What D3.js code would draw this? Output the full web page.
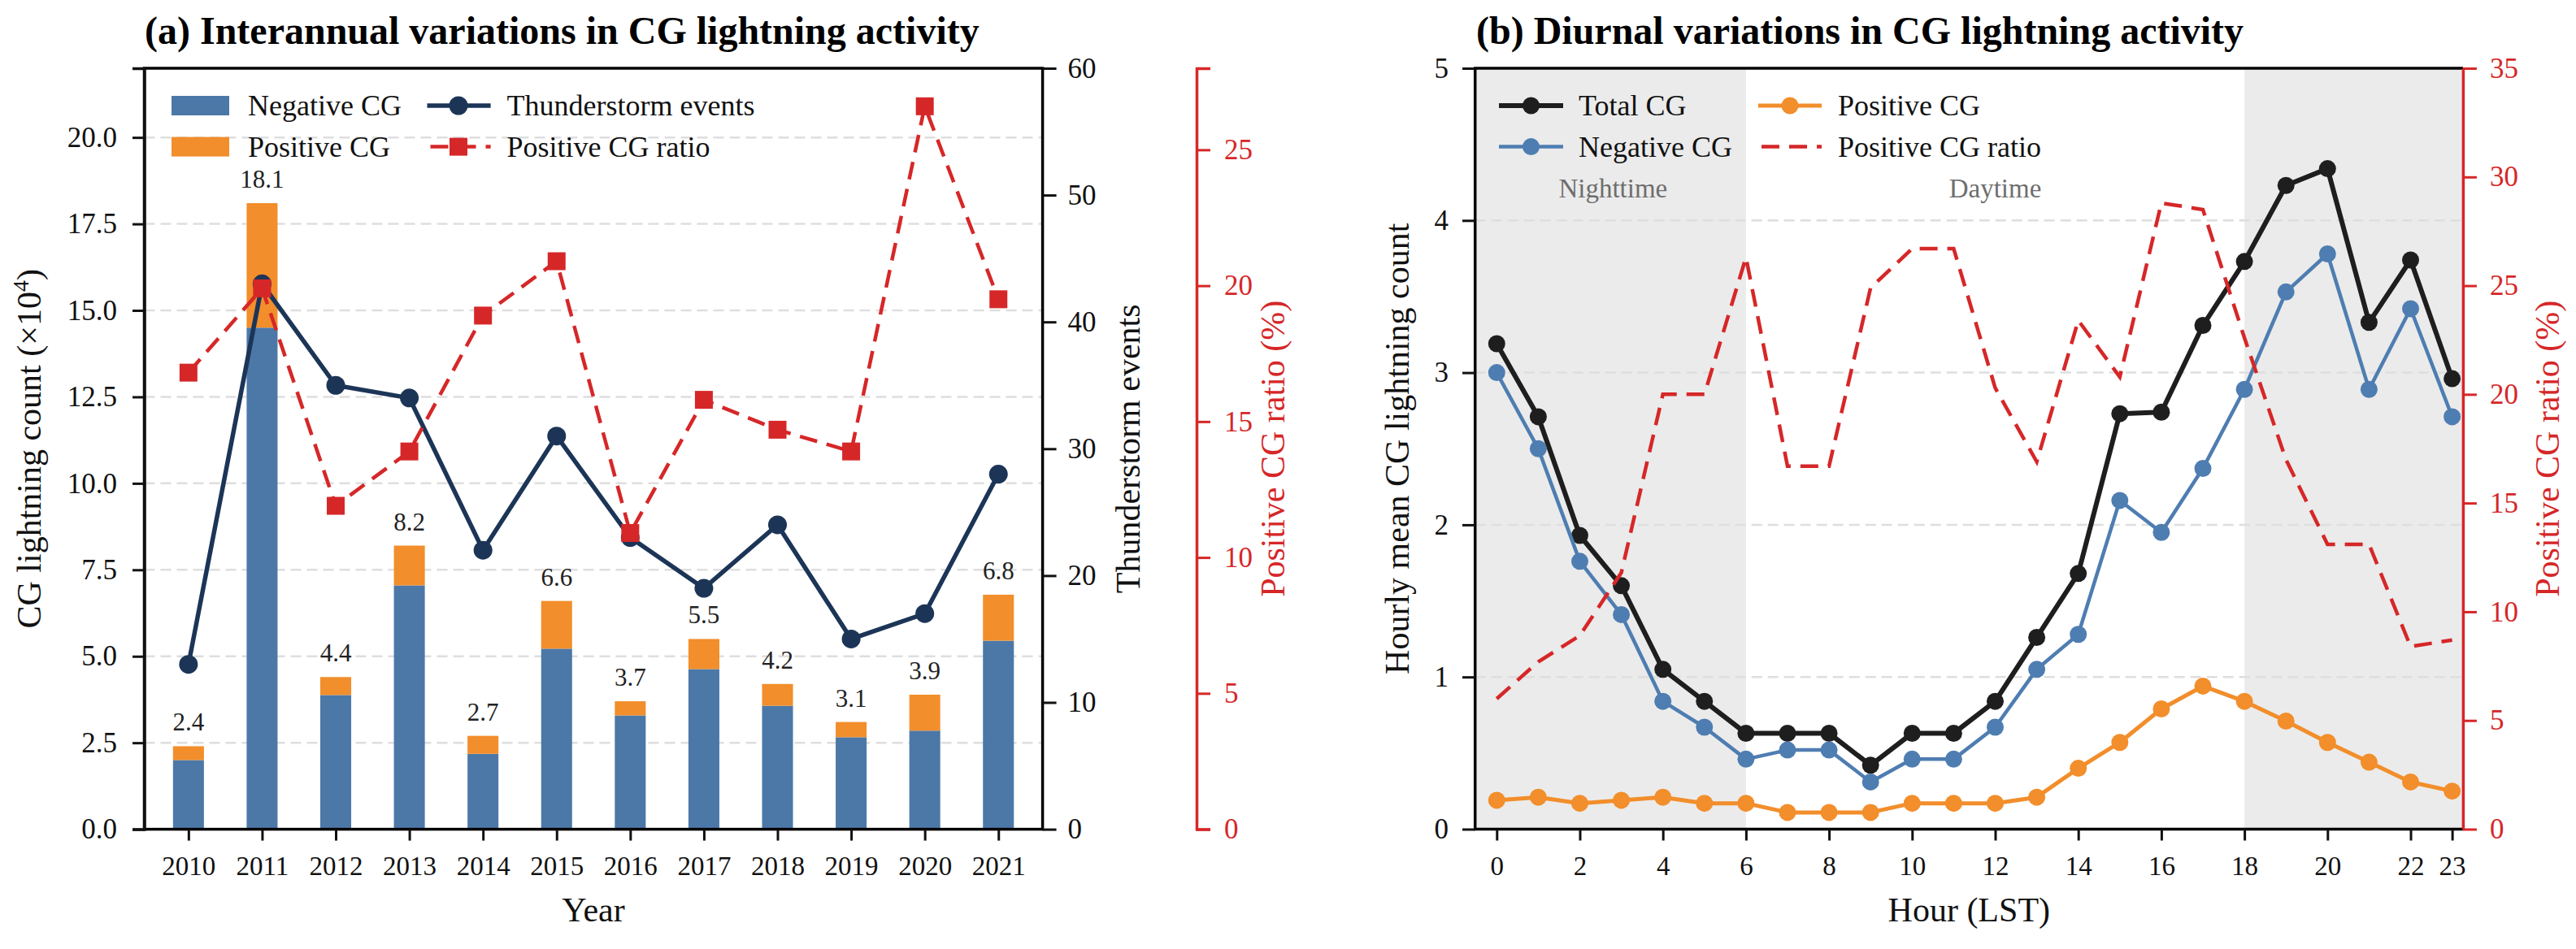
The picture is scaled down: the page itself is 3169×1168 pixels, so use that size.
<!DOCTYPE html>
<html>
<head>
<meta charset="utf-8">
<script src="https://cdn.jsdelivr.net/npm/d3@7"></script>
<style>
    body { margin: 0; background: #fff; }
    svg text { font-family: "Liberation Serif", "Times New Roman", serif; }
</style>
</head>
<body>
<svg id="chart" width="3169" height="1168"></svg>
<script>
// ---------- panel (a) : interannual ----------
const years = [2010, 2011, 2012, 2013, 2014, 2015, 2016, 2017, 2018, 2019, 2020, 2021]
const negativeCG = [2.00, 14.50, 3.88, 7.05, 2.18, 5.22, 3.29, 4.63, 3.57, 2.66, 2.85, 5.45]
const positiveCG = [0.40, 3.60, 0.52, 1.15, 0.52, 1.38, 0.41, 0.87, 0.63, 0.44, 1.04, 1.33]
const totalLabels = ["2.4", "18.1", "4.4", "8.2", "2.7", "6.6", "3.7", "5.5", "4.2", "3.1", "3.9", "6.8"]
const thunderEvents = [13, 43, 35, 34, 22, 31, 23, 19, 24, 15, 17, 28]
const ratioYear = [16.8, 19.9, 11.9, 13.9, 18.9, 20.9, 10.9, 15.8, 14.7, 13.9, 26.6, 19.5]
const countTicksA = [0, 2.5, 5, 7.5, 10, 12.5, 15, 17.5, 20]
const eventTicks = [0, 10, 20, 30, 40, 50, 60]
const ratioTicksA = [0, 5, 10, 15, 20, 25]

// ---------- panel (b) : diurnal ----------
const hours = [0, 1, 2, 3, 4, 5, 6, 7, 8, 9, 10, 11, 12, 13, 14, 15, 16, 17, 18, 19, 20, 21, 22, 23]
const totalHourly = [3.19, 2.71, 1.93, 1.60, 1.05, 0.84, 0.63, 0.63, 0.63, 0.42, 0.63, 0.63,
                     0.84, 1.26, 1.68, 2.73, 2.74, 3.31, 3.73, 4.23, 4.34, 3.33, 3.74, 2.96]
const negHourly = [3.00, 2.50, 1.76, 1.41, 0.84, 0.67, 0.46, 0.52, 0.52, 0.31, 0.46, 0.46,
                   0.67, 1.05, 1.28, 2.16, 1.95, 2.37, 2.89, 3.53, 3.78, 2.89, 3.42, 2.71]
const posHourly = [0.19, 0.21, 0.17, 0.19, 0.21, 0.17, 0.17, 0.11, 0.11, 0.11, 0.17, 0.17,
                   0.17, 0.21, 0.40, 0.57, 0.79, 0.94, 0.84, 0.71, 0.57, 0.44, 0.31, 0.25]
const ratioHourly = [6.0, 7.7, 8.9, 11.8, 20.0, 20.0, 26.3, 16.7, 16.7, 24.9, 26.7, 26.7,
                     20.3, 16.9, 23.4, 20.8, 28.8, 28.5, 22.6, 17.0, 13.1, 13.1, 8.4, 8.7]
const hourTicks = [0, 2, 4, 6, 8, 10, 12, 14, 16, 18, 20, 22, 23]
const countTicksB = [0, 1, 2, 3, 4, 5]
const ratioTicksB = [0, 5, 10, 15, 20, 25, 30, 35]

const FONT = '"Liberation Serif", "Times New Roman", serif'
const C = {
    neg: "#4c78a8", pos: "#f28e2b", navy: "#1c3557", red: "#d62728",
    black: "#1e1e1e", blue: "#4e7db1", grid: "#dedede", shade: "#ebebeb"
}
const YTICK = 35, XTICK = 33, LABEL = 42, LEGEND = 36

let svg = d3.select("#chart")
svg.append("rect").attr("width", 3169).attr("height", 1168).attr("fill", "#fff")

function styleAxis(g, color, keepDomain, size) {
    g.attr("font-family", FONT).attr("font-size", size)
    g.selectAll("text").attr("fill", color)
    g.selectAll(".tick line").attr("stroke", color).attr("stroke-width", 3)
    if (keepDomain) g.select(".domain").attr("stroke", color).attr("stroke-width", 3.5)
    else g.select(".domain").remove()
}

function gridLines(g, ticks, y, x0, x1) {
    g.selectAll(null).data(ticks).enter().append("line")
        .attr("x1", x0).attr("x2", x1)
        .attr("y1", d => y(d)).attr("y2", d => y(d))
        .attr("stroke", C.grid).attr("stroke-width", 2.5).attr("stroke-dasharray", "13,7")
}

function vLabel(x, y, txt, color) {
    return svg.append("text")
        .attr("transform", "translate(" + x + "," + y + ") rotate(-90)")
        .attr("text-anchor", "middle").attr("font-size", LABEL).attr("fill", color)
        .text(txt)
}

// =================== (a) ===================
const A = { l: 177.5, r: 1282.6, t: 84, b: 1020.6 }
let xA = d3.scaleLinear().domain([-0.6, 11.6]).range([A.l, A.r])
let yA = d3.scaleLinear().domain([0, 22]).range([A.b, A.t])
let yEv = d3.scaleLinear().domain([0, 60]).range([A.b, A.t])
let yRa = d3.scaleLinear().domain([0, 28]).range([A.b, A.t])
let barW = xA(0.42) - xA(0)

let ga = svg.append("g")
gridLines(ga, countTicksA.slice(1), yA, A.l, A.r)

// stacked bars
ga.selectAll(".neg").data(negativeCG).enter().append("rect")
    .attr("x", (d, i) => xA(i) - barW / 2).attr("width", barW)
    .attr("y", d => yA(d)).attr("height", d => yA(0) - yA(d))
    .attr("fill", C.neg)
ga.selectAll(".pos").data(positiveCG).enter().append("rect")
    .attr("x", (d, i) => xA(i) - barW / 2).attr("width", barW)
    .attr("y", (d, i) => yA(negativeCG[i] + d))
    .attr("height", (d, i) => yA(negativeCG[i]) - yA(negativeCG[i] + d))
    .attr("fill", C.pos)
ga.selectAll(".lab").data(totalLabels).enter().append("text")
    .attr("x", (d, i) => xA(i))
    .attr("y", (d, i) => yA(negativeCG[i] + positiveCG[i]) - 19)
    .attr("text-anchor", "middle").attr("font-size", 31).attr("fill", "#222")
    .text(d => d)

// thunderstorm events
let evLine = d3.line().x((d, i) => xA(i)).y(d => yEv(d))
ga.append("path").datum(thunderEvents).attr("d", evLine)
    .attr("fill", "none").attr("stroke", C.navy).attr("stroke-width", 5.5)
ga.selectAll(".ev").data(thunderEvents).enter().append("circle")
    .attr("cx", (d, i) => xA(i)).attr("cy", d => yEv(d)).attr("r", 11.5)
    .attr("fill", C.navy)

// positive CG ratio
let raLine = d3.line().x((d, i) => xA(i)).y(d => yRa(d))
ga.append("path").datum(ratioYear).attr("d", raLine)
    .attr("fill", "none").attr("stroke", C.red).attr("stroke-width", 4.5)
    .attr("stroke-dasharray", "22,12")
ga.selectAll(".ra").data(ratioYear).enter().append("rect")
    .attr("x", (d, i) => xA(i) - 11).attr("y", d => yRa(d) - 11)
    .attr("width", 22).attr("height", 22).attr("fill", C.red)

// spines
ga.append("rect").attr("x", A.l).attr("y", A.t)
    .attr("width", A.r - A.l).attr("height", A.b - A.t)
    .attr("fill", "none").attr("stroke", "#000").attr("stroke-width", 3.5)

// axes
let axL = svg.append("g").attr("transform", "translate(" + A.l + ",0)")
    .call(d3.axisLeft(yA).tickValues(countTicksA).tickFormat(d3.format(".1f"))
        .tickSize(14.5).tickSizeOuter(14.5).tickPadding(19))
styleAxis(axL, "#111", true, YTICK)
let axB = svg.append("g").attr("transform", "translate(0," + A.b + ")")
    .call(d3.axisBottom(xA).tickValues(d3.range(years.length)).tickFormat(i => years[i])
        .tickSize(14).tickPadding(19))
styleAxis(axB, "#111", false, XTICK)
let axR = svg.append("g").attr("transform", "translate(" + A.r + ",0)")
    .call(d3.axisRight(yEv).tickValues(eventTicks).tickSize(17).tickPadding(14))
styleAxis(axR, "#111", false, YTICK)
let axRR = svg.append("g").attr("transform", "translate(1472,0)")
    .call(d3.axisRight(yRa).tickValues(ratioTicksA).tickSize(17).tickSizeOuter(17).tickPadding(17))
styleAxis(axRR, C.red, true, YTICK)

// titles and labels
svg.append("text").attr("x", 178).attr("y", 54).attr("font-size", 48).attr("font-weight", "bold")
    .text("(a) Interannual variations in CG lightning activity")
let lab = vLabel(50, (A.t + A.b) / 2, "CG lightning count (×10", "#111")
lab.append("tspan").attr("baseline-shift", "super").attr("font-size", 28).text("4")
lab.append("tspan").text(")")
vLabel(1402, (A.t + A.b) / 2, "Thunderstorm events", "#111")
vLabel(1580, (A.t + A.b) / 2, "Positive CG ratio (%)", C.red)
svg.append("text").attr("x", (A.l + A.r) / 2).attr("y", 1134).attr("text-anchor", "middle")
    .attr("font-size", LABEL).attr("fill", "#111").text("Year")

// legend (a)
let lgA = svg.append("g").attr("font-size", LEGEND).attr("fill", "#111")
const rowY = [130, 180.6]
lgA.append("rect").attr("x", 211).attr("y", rowY[0] - 12).attr("width", 71).attr("height", 24).attr("fill", C.neg)
lgA.append("rect").attr("x", 211).attr("y", rowY[1] - 12).attr("width", 71).attr("height", 24).attr("fill", C.pos)
lgA.append("text").attr("x", 305).attr("y", rowY[0] + 12).text("Negative CG")
lgA.append("text").attr("x", 305).attr("y", rowY[1] + 12).text("Positive CG")
lgA.append("line").attr("x1", 525.5).attr("x2", 603.6).attr("y1", rowY[0]).attr("y2", rowY[0])
    .attr("stroke", C.navy).attr("stroke-width", 5.5)
lgA.append("circle").attr("cx", 564).attr("cy", rowY[0]).attr("r", 11.5).attr("fill", C.navy)
lgA.append("line").attr("x1", 525.5).attr("x2", 603.6).attr("y1", rowY[1]).attr("y2", rowY[1])
    .attr("stroke", C.red).attr("stroke-width", 4.5).attr("stroke-dasharray", "22,12").attr("stroke-dashoffset", -4)
lgA.append("rect").attr("x", 553).attr("y", rowY[1] - 11).attr("width", 22).attr("height", 22).attr("fill", C.red)
lgA.append("text").attr("x", 623.5).attr("y", rowY[0] + 12).text("Thunderstorm events")
lgA.append("text").attr("x", 623.5).attr("y", rowY[1] + 12).text("Positive CG ratio")

// =================== (b) ===================
const B = { l: 1814.7, r: 3029.9, t: 84, b: 1020.5 }
let xB = d3.scaleLinear().domain([-0.52, 23.26]).range([B.l, B.r])
let yB = d3.scaleLinear().domain([0, 5]).range([B.b, B.t])
let yBR = d3.scaleLinear().domain([0, 35]).range([B.b, B.t])

let gb = svg.append("g")
gb.append("rect").attr("x", B.l).attr("y", B.t).attr("width", xB(6) - B.l).attr("height", B.b - B.t).attr("fill", C.shade)
gb.append("rect").attr("x", xB(18)).attr("y", B.t).attr("width", B.r - xB(18)).attr("height", B.b - B.t).attr("fill", C.shade)
gridLines(gb, countTicksB.slice(1, 5), yB, B.l, B.r)

gb.append("text").attr("x", xB(2.8)).attr("y", yB(4.21) + 11).attr("text-anchor", "middle")
    .attr("font-size", 33).attr("fill", "#6e6e6e").text("Nighttime")
gb.append("text").attr("x", xB(12)).attr("y", yB(4.21) + 11).attr("text-anchor", "middle")
    .attr("font-size", 33).attr("fill", "#6e6e6e").text("Daytime")

function markedLine(values, color, lw) {
    let line = d3.line().x((d, i) => xB(hours[i])).y(d => yB(d))
    gb.append("path").datum(values).attr("d", line)
        .attr("fill", "none").attr("stroke", color).attr("stroke-width", lw).attr("stroke-linejoin", "round")
    gb.append("g").selectAll("circle").data(values).enter().append("circle")
        .attr("cx", (d, i) => xB(hours[i])).attr("cy", d => yB(d)).attr("r", 10.5)
        .attr("fill", color)
}
markedLine(totalHourly, C.black, 6)
markedLine(negHourly, C.blue, 4.5)
markedLine(posHourly, C.pos, 5)

let ratioLineB = d3.line().x((d, i) => xB(hours[i])).y(d => yBR(d))
gb.append("path").datum(ratioHourly).attr("d", ratioLineB)
    .attr("fill", "none").attr("stroke", C.red).attr("stroke-width", 4.5)
    .attr("stroke-dasharray", "22,12")

// spines
gb.append("path").attr("d", "M" + B.r + "," + B.t + "H" + B.l + "V" + B.b + "H" + B.r)
    .attr("fill", "none").attr("stroke", "#000").attr("stroke-width", 3.5)

let bxL = svg.append("g").attr("transform", "translate(" + B.l + ",0)")
    .call(d3.axisLeft(yB).tickValues(countTicksB).tickFormat(d3.format("d"))
        .tickSize(15.7).tickPadding(17))
styleAxis(bxL, "#111", false, YTICK)
let bxB = svg.append("g").attr("transform", "translate(0," + B.b + ")")
    .call(d3.axisBottom(xB).tickValues(hourTicks).tickFormat(d3.format("d"))
        .tickSize(14).tickPadding(19))
styleAxis(bxB, "#111", false, XTICK)
let bxR = svg.append("g").attr("transform", "translate(" + B.r + ",0)")
    .call(d3.axisRight(yBR).tickValues(ratioTicksB).tickFormat(d3.format("d"))
        .tickSize(17).tickSizeOuter(0).tickPadding(16))
styleAxis(bxR, C.red, true, YTICK)

svg.append("text").attr("x", 1816).attr("y", 54).attr("font-size", 48).attr("font-weight", "bold")
    .text("(b) Diurnal variations in CG lightning activity")
vLabel(1733, (B.t + B.b) / 2, "Hourly mean CG lightning count", "#111")
vLabel(3148, (B.t + B.b) / 2, "Positive CG ratio (%)", C.red)
svg.append("text").attr("x", (B.l + B.r) / 2).attr("y", 1134).attr("text-anchor", "middle")
    .attr("font-size", LABEL).attr("fill", "#111").text("Hour (LST)")

// legend (b)
let lgB = svg.append("g").attr("font-size", LEGEND).attr("fill", "#111")
function legendLine(x1, x2, y, color, lw, dashed, marker) {
    let l = lgB.append("line").attr("x1", x1).attr("x2", x2).attr("y1", y).attr("y2", y)
        .attr("stroke", color).attr("stroke-width", lw)
    if (dashed) l.attr("stroke-dasharray", "22,12").attr("stroke-dashoffset", -4)
    if (marker) lgB.append("circle").attr("cx", (x1 + x2) / 2).attr("cy", y).attr("r", 10.5).attr("fill", color)
}
legendLine(1844, 1923, rowY[0], C.black, 6, false, true)
legendLine(1844, 1923, rowY[1], C.blue, 4.5, false, true)
legendLine(2163, 2241, rowY[0], C.pos, 5, false, true)
legendLine(2163, 2241, rowY[1], C.red, 4.5, true, false)
lgB.append("text").attr("x", 1942).attr("y", rowY[0] + 12).text("Total CG")
lgB.append("text").attr("x", 1942).attr("y", rowY[1] + 12).text("Negative CG")
lgB.append("text").attr("x", 2261).attr("y", rowY[0] + 12).text("Positive CG")
lgB.append("text").attr("x", 2261).attr("y", rowY[1] + 12).text("Positive CG ratio")
</script>
</body>
</html>
